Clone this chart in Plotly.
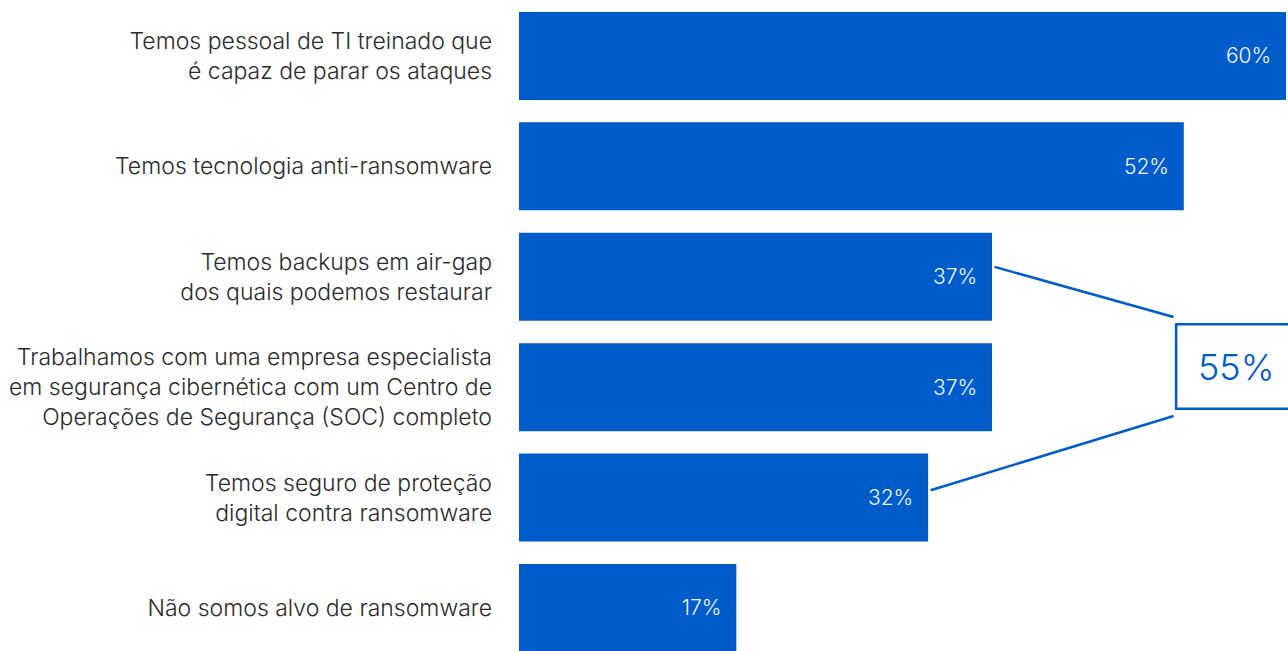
import plotly.graph_objects as go

# Survey answers (top to bottom) and share of respondents
categories = [
    "Temos pessoal de TI treinado que<br>é capaz de parar os ataques",
    "Temos tecnologia anti-ransomware",
    "Temos backups em air-gap<br>dos quais podemos restaurar",
    "Trabalhamos com uma empresa especialista<br>em segurança cibernética com um Centro de<br>Operações de Segurança (SOC) completo",
    "Temos seguro de proteção<br>digital contra ransomware",
    "Não somos alvo de ransomware",
]
values = [60, 52, 37, 37, 32, 17]
callout_value = 55

BLUE = "#005BCB"
TEXT = "#2b2b2b"
FONT = "Inter"

fig = go.Figure(
    go.Bar(
        x=values,
        y=categories,
        orientation="h",
        marker=dict(color=BLUE, line=dict(width=0)),
        texttemplate="%{x}%\u00a0\u00a0",
        textposition="inside",
        insidetextanchor="end",
        textfont=dict(color="#f4f6fb", size=21, family=FONT, weight=300),
        constraintext="none",
        hoverinfo="skip",
    )
)

# Callout box grouping the backup and insurance answers
box_x0, box_x1 = 51.4, 60.3
box_y0, box_y1 = 0.372, 0.502
fig.add_shape(type="rect", xref="x", yref="paper",
              x0=box_x0, x1=box_x1, y0=box_y0, y1=box_y1,
              line=dict(color=BLUE, width=2.5), fillcolor="rgba(0,0,0,0)")
fig.add_annotation(xref="x", yref="paper", x=56.1,
                   y=(box_y0 + box_y1) / 2, text=f"{callout_value}%",
                   showarrow=False,
                   font=dict(color=BLUE, size=36, family=FONT, weight=300))

# Connector lines from the bar ends to the callout
fig.add_shape(type="line", xref="x", yref="paper",
              x0=values[2] + 0.2, y0=0.590, x1=box_x0 - 0.2, y1=0.513,
              line=dict(color=BLUE, width=2.5))
fig.add_shape(type="line", xref="x", yref="paper",
              x0=values[4] + 0.2, y0=0.247, x1=box_x0 - 0.2, y1=0.361,
              line=dict(color=BLUE, width=2.5))

fig.update_layout(
    width=1288,
    height=651,
    margin=dict(l=519, r=0, t=0, b=0),
    paper_bgcolor="white",
    plot_bgcolor="white",
    bargap=0.203,
    showlegend=False,
    font=dict(family=FONT, color=TEXT, size=23),
)
fig.update_xaxes(range=[0, 60.15], visible=False)
fig.update_yaxes(
    range=[5.39, -0.507],
    showgrid=False,
    zeroline=False,
    showline=False,
    ticks="",
    ticklabelstandoff=26,
    tickfont=dict(size=23, color=TEXT, family=FONT, weight=300),
)

fig.write_html("out.html")
